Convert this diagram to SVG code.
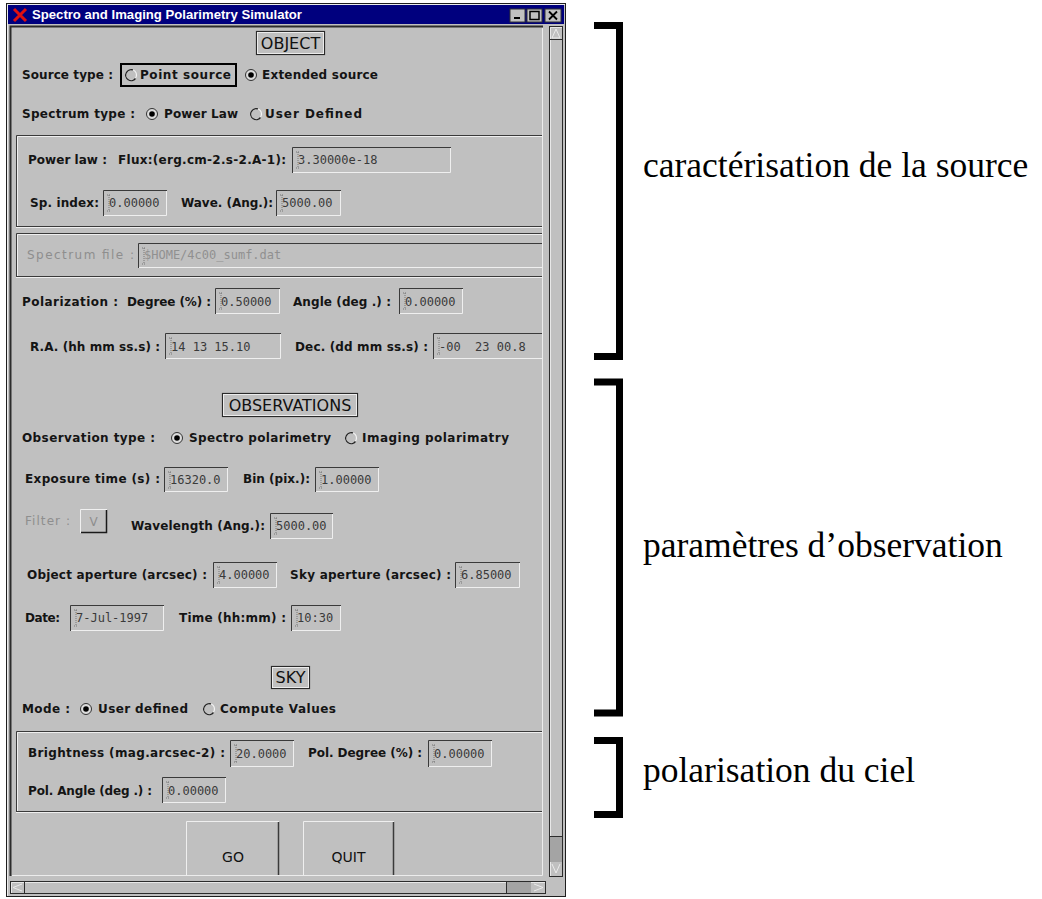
<svg xmlns="http://www.w3.org/2000/svg" width="1042" height="899" viewBox="0 0 1042 899">
<style>
.lb{font-family:"DejaVu Sans",sans-serif;font-weight:bold;font-size:12px;fill:#141414}
.gr{font-family:"DejaVu Sans",sans-serif;font-size:12px;fill:#8e8e8e}
.val{font-family:"DejaVu Sans Mono",monospace;font-size:12px;fill:#3a3a3a;white-space:pre}
.grv{font-family:"DejaVu Sans Mono",monospace;font-size:12px;fill:#909090}
.hd{font-family:"DejaVu Sans",sans-serif;font-size:16px;fill:#111;text-anchor:middle}
.btn{font-family:"DejaVu Sans",sans-serif;font-size:14px;fill:#111;text-anchor:middle}
.note{font-family:"Liberation Serif","Times New Roman",serif;font-size:35.5px;fill:#000}
.dk{stroke:#3a3a3a;fill:none;stroke-width:1}
.lt{stroke:#efefef;fill:none;stroke-width:1}
.cur{stroke:#777;fill:none;stroke-width:1}
.hdbox{fill:none;stroke:#2a2a2a;stroke-width:1.2}
.brk{fill:none;stroke:#000;stroke-width:7;stroke-linejoin:miter}
.rdot{fill:#000}
.rfill{fill:#dcdcdc;stroke:#333;stroke-width:1}
.rlt{fill:none;stroke:#f4f4f4;stroke-width:1.2}
.rdk{fill:none;stroke:#222;stroke-width:1.3}
</style>
<defs>
<clipPath id="pane"><rect x="12" y="27" width="530" height="848"/></clipPath>
</defs>

<!-- window frame -->
<g id="window">
<rect x="6.5" y="3.5" width="559" height="893" fill="#c0c0c0" stroke="#1e1e1e"/>
<path d="M7.5,896 V4.5 H565" stroke="#ececec" fill="none"/>
<rect x="8" y="5" width="556" height="19" fill="#00007e"/>
<path d="M14,9 L26,21 M26,9 L14,21" stroke="#e01010" stroke-width="3"/>
<text x="32" y="19" font-family="Liberation Sans, Arial, sans-serif" font-weight="bold" font-size="12" fill="#fff" textLength="270" lengthAdjust="spacingAndGlyphs">Spectro and Imaging Polarimetry Simulator</text>
<g id="winbtns">
<rect x="510" y="9" width="15" height="13" fill="#c0c0c0" stroke="#333"/>
<rect x="514" y="17" width="6" height="2" fill="#000"/>
<rect x="527" y="9" width="15" height="13" fill="#c0c0c0" stroke="#333"/>
<rect x="530" y="11.5" width="9" height="8" fill="none" stroke="#000" stroke-width="1.5"/>
<rect x="545" y="9" width="16" height="13" fill="#c0c0c0" stroke="#333"/>
<path d="M549,11.5 L557,19.5 M557,11.5 L549,19.5" stroke="#000" stroke-width="1.8"/>
</g>
</g>

<!-- panel borders -->
<g id="panel">
<path d="M10.5,876 V26.5 H543" stroke="#2c2c2c" stroke-width="2" fill="none"/>
<path d="M12,875.5 H542.5 V28" stroke="#ececec" fill="none"/>
</g>

<!-- vertical scrollbar -->
<g id="vscroll">
<rect x="549.5" y="26.5" width="13" height="850" fill="#c0c0c0" stroke="#2c2c2c"/>
<path d="M550.5,876 V27.5 H562" stroke="#e8e8e8" fill="none"/>
<path d="M552,38 L556,29 L560,38 Z" fill="none" stroke="#eaeaea"/>
<line x1="550" y1="39.5" x2="562" y2="39.5" stroke="#2c2c2c"/>
<rect x="550" y="836" width="12" height="26" fill="#a4a4a4"/>
<line x1="550" y1="836.5" x2="562" y2="836.5" stroke="#2c2c2c"/>
<path d="M552,864 L556,873 L560,864" fill="none" stroke="#eaeaea"/>
</g>

<!-- horizontal scrollbar -->
<g id="hscroll">
<rect x="10.5" y="881.5" width="535" height="12" fill="#c0c0c0" stroke="#2c2c2c"/>
<path d="M11.5,893 V882.5 H545" stroke="#e8e8e8" fill="none"/>
<path d="M22,884 L13,887.5 L22,891" fill="none" stroke="#eaeaea"/>
<line x1="24.5" y1="882" x2="24.5" y2="893" stroke="#2c2c2c"/>
<rect x="507" y="882" width="24" height="11" fill="#a4a4a4"/>
<line x1="506.5" y1="882" x2="506.5" y2="893" stroke="#2c2c2c"/>
<path d="M534,884 L543,887.5 L534,891" fill="none" stroke="#eaeaea"/>
</g>

<g clip-path="url(#pane)">
<!-- frames -->
<g id="frames">
<path d="M16.5,227 V135.5 H560" class="dk"/><path d="M17.5,227 V136.5 H560" class="lt"/>
<path d="M16,226.5 H560" class="dk"/><path d="M16,227.5 H560" class="lt"/>
<path d="M16.5,277 V233.5 H560" class="dk"/><path d="M17.5,277 V234.5 H560" class="lt"/>
<path d="M16,276.5 H560" class="dk"/><path d="M16,277.5 H560" class="lt"/>
<path d="M16.5,812 V731.5 H560" class="dk"/><path d="M17.5,812 V732.5 H560" class="lt"/>
<path d="M16,811.5 H560" class="dk"/><path d="M16,812.5 H560" class="lt"/>
</g>

<!-- OBJECT section -->
<g id="object-header">
<rect x="256.5" y="31.5" width="68" height="23" class="hdbox"/>
<rect x="257.5" y="32.5" width="66" height="21" fill="none" stroke="#ececec"/>
<text x="290.5" y="48.5" class="hd">OBJECT</text>
</g>

<g id="source-type">
<text x="22" y="79" class="lb" textLength="91" lengthAdjust="spacing">Source type :</text>
<rect x="121" y="64" width="115" height="22" fill="none" stroke="#000" stroke-width="2"/>
<circle cx="131" cy="75" r="5.5" class="rlt"/>
<path d="M133,69.9 A5.5,5.5 0 1 0 135.5,78.5" class="rdk"/>
<text x="140" y="79" class="lb" textLength="91" lengthAdjust="spacing">Point source</text>
<circle cx="251" cy="75" r="5.5" class="rfill"/><circle cx="251" cy="75" r="2.8" class="rdot"/>
<text x="262" y="79" class="lb" textLength="116" lengthAdjust="spacing">Extended source</text>
</g>

<g id="spectrum-type">
<text x="22" y="118" class="lb" textLength="113" lengthAdjust="spacing">Spectrum type :</text>
<circle cx="152" cy="114" r="5.5" class="rfill"/><circle cx="152" cy="114" r="2.8" class="rdot"/>
<text x="164" y="118" class="lb" textLength="74" lengthAdjust="spacing">Power Law</text>
<circle cx="256" cy="114" r="5.5" class="rlt"/>
<path d="M258,108.9 A5.5,5.5 0 1 0 260.5,117.5" class="rdk"/>
<text x="265" y="118" class="lb" textLength="97" lengthAdjust="spacing">User Defined</text>
</g>

<g id="power-law">
<text x="28" y="164" class="lb" textLength="79" lengthAdjust="spacing">Power law :</text>
<text x="118" y="164" class="lb" textLength="168" lengthAdjust="spacing">Flux:(erg.cm-2.s-2.A-1):</text>
<path d="M292.5,173 V147.5 H451" class="dk"/><path d="M293,172.5 H450.5 V148" class="lt"/>
<path d="M298,152 V168 M296,152 h4 M296,168 h4" class="cur" stroke-dasharray="1 1"/>
<text x="298" y="164" class="val">3.30000e-18</text>
<text x="30" y="207" class="lb" textLength="69" lengthAdjust="spacing">Sp. index:</text>
<path d="M103.5,216 V190.5 H167" class="dk"/><path d="M104,215.5 H166.5 V191" class="lt"/>
<path d="M109,195 V211 M107,195 h4 M107,211 h4" class="cur" stroke-dasharray="1 1"/>
<text x="109" y="207" class="val">0.00000</text>
<text x="181" y="207" class="lb" textLength="92" lengthAdjust="spacing">Wave. (Ang.):</text>
<path d="M276.5,216 V190.5 H341" class="dk"/><path d="M277,215.5 H340.5 V191" class="lt"/>
<path d="M282,195 V211 M280,195 h4 M280,211 h4" class="cur" stroke-dasharray="1 1"/>
<text x="282" y="207" class="val">5000.00</text>
</g>

<g id="spectrum-file">
<text x="27" y="259" class="gr" textLength="107" lengthAdjust="spacing">Spectrum file :</text>
<path d="M138.5,268 V243.5 H560" class="dk"/><path d="M139,267.5 H560" class="lt"/>
<path d="M144,248 V264 M142,248 h4 M142,264 h4" class="cur" stroke-dasharray="1 1"/>
<text x="144" y="259" class="grv">$HOME/4c00_sumf.dat</text>
</g>

<g id="polarization">
<text x="22" y="306" class="lb" textLength="96" lengthAdjust="spacing">Polarization :</text>
<text x="127" y="306" class="lb" textLength="84" lengthAdjust="spacing">Degree (%) :</text>
<path d="M215.5,314 V288.5 H280" class="dk"/><path d="M216,313.5 H279.5 V289" class="lt"/>
<path d="M221,293 V309 M219,293 h4 M219,309 h4" class="cur" stroke-dasharray="1 1"/>
<text x="221" y="306" class="val">0.50000</text>
<text x="293" y="306" class="lb" textLength="98" lengthAdjust="spacing">Angle (deg .) :</text>
<path d="M399.5,314 V288.5 H463" class="dk"/><path d="M400,313.5 H462.5 V289" class="lt"/>
<path d="M405,293 V309 M403,293 h4 M403,309 h4" class="cur" stroke-dasharray="1 1"/>
<text x="405" y="306" class="val">0.00000</text>
</g>

<g id="coordinates">
<text x="30" y="351" class="lb" textLength="130" lengthAdjust="spacing">R.A. (hh mm ss.s) :</text>
<path d="M165.5,359 V333.5 H281" class="dk"/><path d="M166,358.5 H280.5 V334" class="lt"/>
<path d="M171,338 V354 M169,338 h4 M169,354 h4" class="cur" stroke-dasharray="1 1"/>
<text x="171" y="351" class="val">14 13 15.10</text>
<text x="295" y="351" class="lb" textLength="133" lengthAdjust="spacing">Dec. (dd mm ss.s) :</text>
<path d="M433.5,359 V333.5 H560" class="dk"/><path d="M434,358.5 H560" class="lt"/>
<path d="M439,338 V354 M437,338 h4 M437,354 h4" class="cur" stroke-dasharray="1 1"/>
<text x="439" y="351" class="val">-00  23 00.8</text>
</g>

<!-- OBSERVATIONS section -->
<g id="observations-header">
<rect x="222.5" y="393.5" width="135" height="23" class="hdbox"/>
<rect x="223.5" y="394.5" width="133" height="21" fill="none" stroke="#ececec"/>
<text x="290" y="410.5" class="hd">OBSERVATIONS</text>
</g>

<g id="observation-type">
<text x="22" y="442" class="lb" textLength="133" lengthAdjust="spacing">Observation type :</text>
<circle cx="177" cy="438" r="5.5" class="rfill"/><circle cx="177" cy="438" r="2.8" class="rdot"/>
<text x="189" y="442" class="lb" textLength="142" lengthAdjust="spacing">Spectro polarimetry</text>
<circle cx="351" cy="438" r="5.5" class="rlt"/>
<path d="M353,432.9 A5.5,5.5 0 1 0 355.5,441.5" class="rdk"/>
<text x="362" y="442" class="lb" textLength="147" lengthAdjust="spacing">Imaging polarimatry</text>
</g>

<g id="exposure">
<text x="25" y="483" class="lb" textLength="135" lengthAdjust="spacing">Exposure time (s) :</text>
<path d="M164.5,492 V467.5 H228" class="dk"/><path d="M165,491.5 H227.5 V468" class="lt"/>
<path d="M170,472 V488 M168,472 h4 M168,488 h4" class="cur" stroke-dasharray="1 1"/>
<text x="170" y="484" class="val">16320.0</text>
<text x="243" y="483" class="lb" textLength="67" lengthAdjust="spacing">Bin (pix.):</text>
<path d="M315.5,492 V467.5 H379" class="dk"/><path d="M316,491.5 H378.5 V468" class="lt"/>
<path d="M321,472 V488 M319,472 h4 M319,488 h4" class="cur" stroke-dasharray="1 1"/>
<text x="321" y="484" class="val">1.00000</text>
</g>

<g id="filter">
<text x="25" y="525" class="gr" textLength="45" lengthAdjust="spacing">Filter :</text>
<path d="M80.5,533 V509.5 H107" stroke="#f0f0f0" fill="none"/>
<path d="M81,532.5 H106.5 V510" stroke="#1a1a1a" fill="none" stroke-width="1.5"/>
<text x="93.5" y="526" class="gr" text-anchor="middle">V</text>
<text x="131" y="530" class="lb" textLength="134" lengthAdjust="spacing">Wavelength (Ang.):</text>
<path d="M270.5,539 V513.5 H333" class="dk"/><path d="M271,538.5 H332.5 V514" class="lt"/>
<path d="M276,518 V534 M274,518 h4 M274,534 h4" class="cur" stroke-dasharray="1 1"/>
<text x="276" y="530" class="val">5000.00</text>
</g>

<g id="apertures">
<text x="27" y="579" class="lb" textLength="180" lengthAdjust="spacing">Object aperture (arcsec) :</text>
<path d="M213.5,588 V562.5 H277" class="dk"/><path d="M214,587.5 H276.5 V563" class="lt"/>
<path d="M219,567 V583 M217,567 h4 M217,583 h4" class="cur" stroke-dasharray="1 1"/>
<text x="219" y="579" class="val">4.00000</text>
<text x="290" y="579" class="lb" textLength="161" lengthAdjust="spacing">Sky aperture (arcsec) :</text>
<path d="M455.5,588 V562.5 H520" class="dk"/><path d="M456,587.5 H519.5 V563" class="lt"/>
<path d="M461,567 V583 M459,567 h4 M459,583 h4" class="cur" stroke-dasharray="1 1"/>
<text x="461" y="579" class="val">6.85000</text>
</g>

<g id="date-time">
<text x="25" y="622" class="lb" textLength="35" lengthAdjust="spacing">Date:</text>
<path d="M70.5,631 V605.5 H164" class="dk"/><path d="M71,630.5 H163.5 V606" class="lt"/>
<path d="M76,610 V626 M74,610 h4 M74,626 h4" class="cur" stroke-dasharray="1 1"/>
<text x="76" y="622" class="val">7-Jul-1997</text>
<text x="179" y="622" class="lb" textLength="107" lengthAdjust="spacing">Time (hh:mm) :</text>
<path d="M291.5,631 V605.5 H341" class="dk"/><path d="M292,630.5 H340.5 V606" class="lt"/>
<path d="M297,610 V626 M295,610 h4 M295,626 h4" class="cur" stroke-dasharray="1 1"/>
<text x="297" y="622" class="val">10:30</text>
</g>

<!-- SKY section -->
<g id="sky-header">
<rect x="271.5" y="666.5" width="38" height="22" class="hdbox"/>
<rect x="272.5" y="667.5" width="36" height="20" fill="none" stroke="#ececec"/>
<text x="290.5" y="683" class="hd">SKY</text>
</g>

<g id="mode">
<text x="22" y="713" class="lb" textLength="48" lengthAdjust="spacing">Mode :</text>
<circle cx="86" cy="709" r="5.5" class="rfill"/><circle cx="86" cy="709" r="2.8" class="rdot"/>
<text x="98" y="713" class="lb" textLength="90" lengthAdjust="spacing">User defined</text>
<circle cx="209" cy="709" r="5.5" class="rlt"/>
<path d="M211,703.9 A5.5,5.5 0 1 0 213.5,712.5" class="rdk"/>
<text x="220" y="713" class="lb" textLength="116" lengthAdjust="spacing">Compute Values</text>
</g>

<g id="sky-values">
<text x="28" y="757" class="lb" textLength="197" lengthAdjust="spacing">Brightness (mag.arcsec-2) :</text>
<path d="M230.5,767 V740.5 H294" class="dk"/><path d="M231,766.5 H293.5 V741" class="lt"/>
<path d="M236,745 V762 M234,745 h4 M234,762 h4" class="cur" stroke-dasharray="1 1"/>
<text x="236" y="758" class="val">20.0000</text>
<text x="308" y="757" class="lb" textLength="114" lengthAdjust="spacing">Pol. Degree (%) :</text>
<path d="M428.5,767 V740.5 H492" class="dk"/><path d="M429,766.5 H491.5 V741" class="lt"/>
<path d="M434,745 V762 M432,745 h4 M432,762 h4" class="cur" stroke-dasharray="1 1"/>
<text x="434" y="758" class="val">0.00000</text>
<text x="28" y="795" class="lb" textLength="124" lengthAdjust="spacing">Pol. Angle (deg .) :</text>
<path d="M162.5,803 V777.5 H226" class="dk"/><path d="M163,802.5 H225.5 V778" class="lt"/>
<path d="M168,782 V798 M166,782 h4 M166,798 h4" class="cur" stroke-dasharray="1 1"/>
<text x="168" y="795" class="val">0.00000</text>
</g>

<g id="go-button">
<path d="M186.5,876 V821.5 H279" stroke="#efefef" fill="none"/>
<path d="M278.5,822 V876" stroke="#3a3a3a" stroke-width="1.5" fill="none"/>
<text x="233" y="862" class="btn">GO</text>
</g>
<g id="quit-button">
<path d="M303.5,876 V821.5 H394" stroke="#efefef" fill="none"/>
<path d="M393.5,822 V876" stroke="#3a3a3a" stroke-width="1.5" fill="none"/>
<text x="348.5" y="862" class="btn">QUIT</text>
</g>
</g>

<!-- annotations -->
<g id="annotation-source">
<path d="M594,25.5 H619.5 V356.5 H594" class="brk"/>
<text x="643" y="177" class="note">caractérisation de la source</text>
</g>
<g id="annotation-observation">
<path d="M594,382 H619.5 V713 H594" class="brk"/>
<text x="643" y="557" class="note">paramètres d’observation</text>
</g>
<g id="annotation-sky">
<path d="M594,740.5 H619.5 V814.5 H594" class="brk"/>
<text x="643" y="782" class="note">polarisation du ciel</text>
</g>
</svg>
